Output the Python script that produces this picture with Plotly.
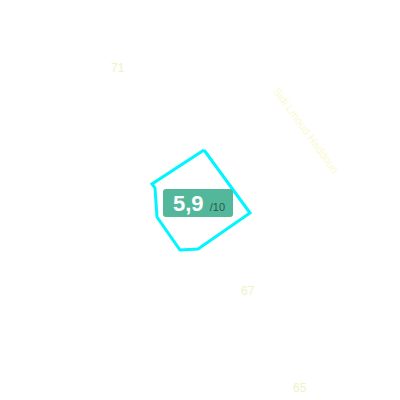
import plotly.graph_objects as go

# boundary of the scored area (map units, y grows downwards)
boundary_x = [204, 250, 198, 180, 157, 155, 152, 204]
boundary_y = [150, 213, 249, 250, 217, 188, 184, 150]

# faint base-map labels
place_labels = ["71", "67", "65"]
place_x = [118, 248, 300]
place_y = [68, 291, 388]
road_label = "Sidi Lmoud Haddoun"
road_x = 306
road_y = 130

score = 5.9
score_max = 10

fig = go.Figure()
fig.add_trace(
    go.Scatter(
        x=boundary_x,
        y=boundary_y,
        mode="lines",
        line=dict(color="#00f5ff", width=3),
        hoverinfo="skip",
        showlegend=False,
    )
)

for txt, x, y in zip(place_labels, place_x, place_y):
    fig.add_annotation(
        x=x, y=y, text=txt, showarrow=False,
        font=dict(family="Liberation Sans", size=12, color="#eef3c6"),
    )

fig.add_annotation(
    x=road_x, y=road_y, text=road_label, showarrow=False, textangle=54,
    font=dict(family="Liberation Sans", size=11, color="#fafad2"),
)

# score badge
fig.add_shape(
    type="path",
    path="M 166 189 L 230 189 Q 233 189 233 192 L 233 214 Q 233 217 230 217 "
         "L 166 217 Q 163 217 163 214 L 163 192 Q 163 189 166 189 Z",
    fillcolor="#52b79b",
    line=dict(width=0),
    layer="above",
)
score_txt = f"{score:.1f}".replace(".", ",")
fig.add_annotation(
    x=199, y=203, showarrow=False,
    text=(f"<b>{score_txt}</b> "
          f"<span style='font-size:11px;color:#2a5a4c'>/{score_max}</span>"),
    font=dict(family="Liberation Sans", size=22, color="white"),
)

# the page body adds an 8px offset, so the ranges start at 8
fig.update_xaxes(range=[8, 408], visible=False, fixedrange=True)
fig.update_yaxes(range=[408, 8], visible=False, fixedrange=True)
fig.update_layout(
    width=400,
    height=400,
    margin=dict(l=0, r=0, t=0, b=0),
    paper_bgcolor="white",
    plot_bgcolor="white",
)

fig.write_html("out.html")
